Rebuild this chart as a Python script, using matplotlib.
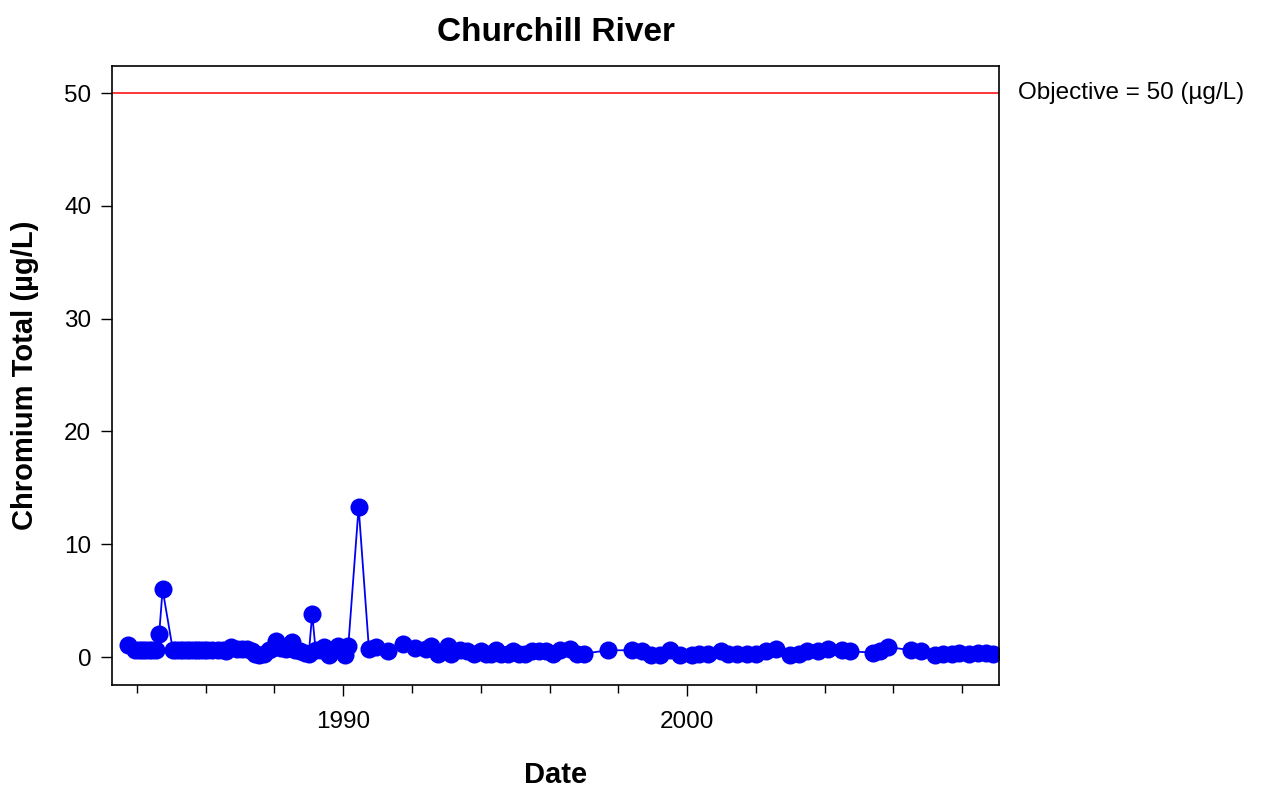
import matplotlib
matplotlib.use("Agg")
import matplotlib.pyplot as plt
from matplotlib.ticker import MultipleLocator, FixedLocator

plt.rcParams['font.family'] = ['Liberation Sans', 'DejaVu Sans']

# sample dates as decimal years, chromium values in ug/L
years = [1983.75, 1983.95, 1984.05, 1984.15, 1984.25, 1984.35, 1984.45, 1984.55,
         1984.65, 1984.75, 1985.05, 1985.15, 1985.25, 1985.35, 1985.45, 1985.55,
         1985.65, 1985.75, 1985.85, 1985.95, 1986.05, 1986.2, 1986.35, 1986.5,
         1986.6, 1986.75, 1986.9, 1987.05, 1987.2, 1987.35, 1987.45, 1987.55,
         1987.7, 1987.85, 1987.95, 1988.05, 1988.2, 1988.35, 1988.5, 1988.6,
         1988.75, 1988.9, 1989.0, 1989.1, 1989.2, 1989.35, 1989.45, 1989.6,
         1989.7, 1989.85, 1989.95, 1990.05, 1990.15, 1990.45, 1990.75, 1990.95,
         1991.3, 1991.75, 1992.1, 1992.4, 1992.55, 1992.75, 1993.05, 1993.15,
         1993.4, 1993.6, 1993.8, 1994.0, 1994.15, 1994.3, 1994.45, 1994.6,
         1994.8, 1994.95, 1995.1, 1995.3, 1995.5, 1995.7, 1995.9, 1996.1,
         1996.3, 1996.6, 1996.8, 1997.0, 1997.7, 1998.4, 1998.7, 1998.95,
         1999.2, 1999.5, 1999.8, 2000.15, 2000.35, 2000.6, 2001.0, 2001.2,
         2001.45, 2001.75, 2002.0, 2002.3, 2002.6, 2003.0, 2003.25, 2003.5,
         2003.8, 2004.1, 2004.5, 2004.75, 2005.4, 2005.6, 2005.85, 2006.5,
         2006.8, 2007.2, 2007.45, 2007.7, 2007.9, 2008.2, 2008.45, 2008.7,
         2008.9]
chromium = [1.1, 0.6, 0.6, 0.6, 0.6, 0.6, 0.6, 0.6,
            2.0, 6.0, 0.6, 0.6, 0.6, 0.6, 0.6, 0.6,
            0.6, 0.6, 0.6, 0.6, 0.6, 0.6, 0.6, 0.6,
            0.5, 0.9, 0.7, 0.7, 0.7, 0.5, 0.3, 0.2,
            0.3, 0.6, 0.8, 1.4, 0.8, 0.7, 1.3, 0.6,
            0.5, 0.4, 0.3, 3.8, 0.6, 0.6, 0.9, 0.2,
            0.6, 1.0, 0.6, 0.2, 1.0, 13.3, 0.7, 0.9,
            0.5, 1.2, 0.8, 0.7, 1.0, 0.3, 1.0, 0.3,
            0.6, 0.5, 0.3, 0.5, 0.3, 0.3, 0.6, 0.3,
            0.3, 0.5, 0.3, 0.3, 0.5, 0.5, 0.5, 0.3,
            0.6, 0.7, 0.3, 0.3, 0.6, 0.6, 0.5, 0.2,
            0.2, 0.6, 0.2, 0.2, 0.3, 0.3, 0.5, 0.3,
            0.3, 0.3, 0.3, 0.5, 0.7, 0.2, 0.3, 0.5,
            0.5, 0.7, 0.6, 0.5, 0.4, 0.5, 0.9, 0.6,
            0.5, 0.2, 0.3, 0.3, 0.4, 0.3, 0.4, 0.4,
            0.3]
objective = 50
year_labels = [1990, 2000]

fig = plt.figure(figsize=(12.66, 7.88), dpi=100)
ax = fig.add_axes([0.0885, 0.1307, 0.7006, 0.7855])

ax.plot(years, chromium, color='#0000f5', linewidth=1.3, marker='o',
        markersize=13, markeredgewidth=0)
ax.axhline(objective, color='red', linewidth=1.1)
ax.text(1.021, objective, 'Objective = %d (µg/L)' % objective, color='black',
        fontsize=17.5, va='center', ha='left',
        transform=ax.get_yaxis_transform())

ax.set_xlim(1983.28, 2009.07)
ax.set_ylim(-2.48, 52.4)
ax.yaxis.set_major_locator(MultipleLocator(10))
ax.xaxis.set_major_locator(FixedLocator(year_labels))
ax.xaxis.set_minor_locator(MultipleLocator(2))
ax.set_xticklabels([str(y) for y in year_labels])

ax.tick_params(axis='both', which='major', direction='out', length=8, width=1,
               labelsize=17.5, pad=7)
ax.tick_params(axis='x', which='major', pad=11)
ax.tick_params(axis='x', which='minor', direction='out', length=6, width=1)
for s in ax.spines.values():
    s.set_linewidth(1.2)

ax.set_title('Churchill River', fontsize=24, fontweight='bold', pad=18)
ax.set_xlabel('Date', fontsize=21, fontweight='bold', labelpad=20)
ax.set_ylabel('Chromium Total (µg/L)', fontsize=21, fontweight='bold', labelpad=18)

fig.savefig('out.png', dpi=100)
